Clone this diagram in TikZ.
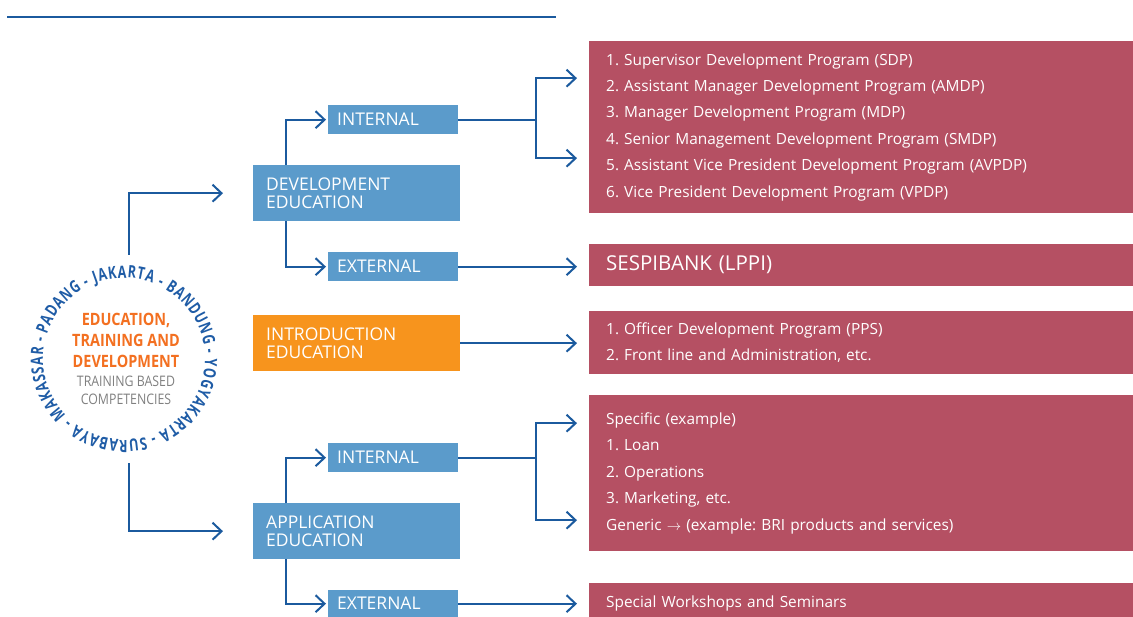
\documentclass[tikz,border=0pt]{standalone}
\usepackage{fontspec}
\setmainfont{Open Sans}
\newfontfamily\condfont[FakeStretch=0.85]{Open Sans}
\newfontfamily\ringfont[FakeStretch=0.74]{Open Sans}
\usetikzlibrary{positioning,arrows.meta,decorations.text}
\frenchspacing

\definecolor{lineblue}{HTML}{1B5A9E}
\definecolor{boxblue}{HTML}{5B9BCB}
\definecolor{introorange}{HTML}{F7941D}
\definecolor{listred}{HTML}{B55063}
\definecolor{etdorange}{HTML}{F37021}
\definecolor{etdgrey}{HTML}{808080}
\definecolor{ringblue}{HTML}{1F5CA6}

\begin{document}
\begin{tikzpicture}[x=1pt, y=-1pt,
  box/.style={fill=boxblue, text=white, anchor=north west, align=left,
    font=\fontsize{17.5}{18}\selectfont, inner ysep=0pt},
  bigbox/.style={box, minimum width=207pt, minimum height=56pt, text width=181pt, inner xsep=13pt},
  smallbox/.style={box, minimum width=130pt, minimum height=29pt, text width=112pt, inner xsep=9pt},
  listbox/.style={fill=listred, text=white, anchor=north west, align=left, minimum width=544pt,
    text width=510pt, inner xsep=17pt, inner ysep=0pt, font=\fontsize{15.4}{26.4}\selectfont},
  link/.style={draw=lineblue, line width=2, -{Straight Barb[length=9pt,width=17pt]}},
  wire/.style={draw=lineblue, line width=2}]
  \useasboundingbox (0,0) rectangle (1133,617);
  \draw[lineblue, line width=2.5] (7,17) -- (556,17);

  % nodes
  \node[circle, minimum size=208pt] (ring) at (124,359) {};
  \node[align=center, text=etdorange, font=\condfont\bfseries\fontsize{17}{21}\selectfont] (etd) at (126,340)
    {EDUCATION,\\TRAINING AND\\DEVELOPMENT};
  \node[align=center, text=etdgrey, font=\condfont\fontsize{14.5}{18}\selectfont] (tbc) at (126,390)
    {TRAINING BASED\\COMPETENCIES};
  \path[decorate, decoration={text along path, text align=fit to path,
      text={|\color{ringblue}\ringfont\bfseries\fontsize{17}{17}\selectfont|JAKARTA - BANDUNG - YOGYAKARTA - SURABAYA - MAKASSAR - PADANG -}}]
    ([shift={(-111:81)}]ring.center) arc[start angle=-111, end angle=245, radius=81];

  \node[bigbox] (dev) at (253,165) {DEVELOPMENT\\EDUCATION};
  \node[smallbox] (int1) at (328,105) {INTERNAL};
  \node[smallbox] (ext1) at (328,252) {EXTERNAL};
  \node[bigbox, fill=introorange] (intro) at (253,315) {INTRODUCTION\\EDUCATION};
  \node[bigbox] (app) at (253,503) {APPLICATION\\EDUCATION};
  \node[smallbox] (int2) at (328,443) {INTERNAL};
  \node[smallbox, minimum height=27pt] (ext2) at (328,590) {EXTERNAL};

  \node[listbox, minimum height=172pt] (dprog) at (589,41)
    {1. Supervisor Development Program (SDP)\\
     2. Assistant Manager Development Program (AMDP)\\
     3. Manager Development Program (MDP)\\
     4. Senior Management Development Program (SMDP)\\
     5. Assistant Vice President Development Program (AVPDP)\\
     6. Vice President Development Program (VPDP)};
  \node[listbox, minimum height=42pt, font=\fontsize{20.5}{22}\selectfont] (sespi) at (589,244)
    {SESPIBANK (LPPI)};
  \node[listbox, minimum height=63pt] (iprog) at (589,311)
    {1. Officer Development Program (PPS)\\
     2. Front line and Administration, etc.};
  \node[listbox, minimum height=156pt] (aprog) at (589,395)
    {Specific (example)\\
     1. Loan\\
     2. Operations\\
     3. Marketing, etc.\\
     Generic $\rightarrow$ (example: BRI products and services)};
  \node[listbox, minimum height=40pt] (semi) at (589,583) {Special Workshops and Seminars};

  % edges
  \draw[link, shorten >=30pt] ([xshift=5pt]ring.north) |- (dev.west);
  \draw[link, shorten >=30pt] ([xshift=5pt]ring.south) |- (app.west);

  \draw[link, shorten >=2pt] ([xshift=33pt]dev.north west) |- (int1.west);
  \draw[link, shorten >=2pt] ([xshift=33pt]dev.south west) |- (ext1.west);
  \draw[link, shorten >=2pt] ([xshift=33pt]app.north west) |- (int2.west);
  \draw[link, shorten >=2pt] ([xshift=33pt]app.south west) |- (ext2.west);

  \draw[wire] (int1.east) -- ++(78,0) coordinate (j1);
  \draw[link, shorten >=12pt] (j1) |- ([yshift=49pt]dprog.west);
  \draw[link, shorten >=12pt] (j1) |- ([yshift=-31pt]dprog.west);
  \draw[link, shorten >=12pt] (ext1.east) -- (ext1.east -| sespi.west);
  \draw[link, shorten >=12pt] (intro.east) -- (intro.east -| iprog.west);
  \draw[wire] (int2.east) -- ++(78,0) coordinate (j2);
  \draw[link, shorten >=12pt] (j2) |- ([yshift=50pt]aprog.west);
  \draw[link, shorten >=12pt] (j2) |- ([yshift=-47pt]aprog.west);
  \draw[link, shorten >=12pt] (ext2.east) -- (ext2.east -| semi.west);
\end{tikzpicture}
\end{document}
